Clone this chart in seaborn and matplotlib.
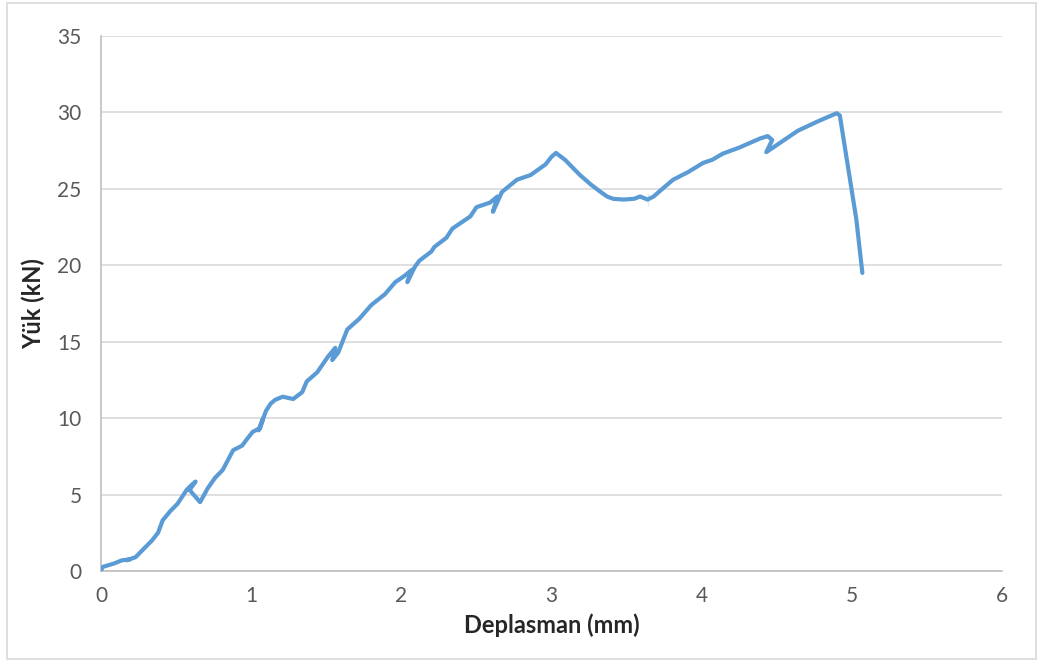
import numpy as np
import pandas as pd
import matplotlib
matplotlib.use('Agg')
import matplotlib.pyplot as plt
import seaborn as sns
from matplotlib.patches import Rectangle

# displacement (mm) and load (kN)
deplasman = [0.00, 0.01, 0.09, 0.14, 0.19, 0.17, 0.23, 0.26, 0.31, 0.34, 0.38, 0.41,
             0.46, 0.51, 0.57, 0.60, 0.63, 0.59, 0.66, 0.71, 0.76, 0.81, 0.88, 0.94,
             0.97, 1.01, 1.06, 1.08, 1.05, 1.10, 1.13, 1.16, 1.21, 1.28, 1.34, 1.37, 1.44,
             1.51, 1.56, 1.54, 1.58, 1.64, 1.72, 1.80, 1.89, 1.96, 2.02, 2.07, 2.04,
             2.09, 2.12, 2.20, 2.22, 2.30, 2.34, 2.46, 2.50, 2.59, 2.64, 2.61, 2.67,
             2.77, 2.86, 2.96, 3.00, 3.03, 3.09, 3.19, 3.26, 3.32, 3.37, 3.41, 3.48,
             3.55, 3.59, 3.64, 3.64, 3.68, 3.75, 3.81, 3.91, 4.01, 4.07, 4.14, 4.25,
             4.39, 4.44, 4.47, 4.43, 4.52, 4.64, 4.77, 4.84, 4.90, 4.92, 5.03, 5.07]
yuk = [0.0, 0.26, 0.5, 0.7, 0.75, 0.7, 0.9, 1.2, 1.7, 2.0, 2.5, 3.3,
       3.9, 4.4, 5.3, 5.6, 5.85, 5.3, 4.5, 5.4, 6.1, 6.6, 7.9, 8.2,
       8.6, 9.1, 9.35, 10.0, 9.2, 10.5, 10.95, 11.2, 11.4, 11.25, 11.7, 12.4, 13.0,
       14.0, 14.6, 13.8, 14.3, 15.8, 16.5, 17.4, 18.1, 18.9, 19.3, 19.7, 18.9,
       19.9, 20.3, 20.9, 21.2, 21.8, 22.4, 23.2, 23.8, 24.1, 24.5, 23.5, 24.8,
       25.6, 25.9, 26.6, 27.1, 27.35, 26.9, 25.9, 25.3, 24.85, 24.5, 24.35, 24.3,
       24.35, 24.5, 24.7, 23.9, 24.5, 25.1, 25.6, 26.1, 26.7, 26.9, 27.3, 27.7,
       28.3, 28.45, 28.2, 27.4, 28.0, 28.8, 29.4, 29.7, 29.95, 29.8, 23.0, 19.5]

df = pd.DataFrame({'Deplasman': deplasman, 'Yuk': yuk})

sns.set_style('white')
plt.rcParams['font.family'] = ['Lato', 'DejaVu Sans']

fig = plt.figure(figsize=(10.39, 6.61), dpi=100)
ax = fig.add_axes([0.0972, 0.1362, 0.8672, 0.8093])

sns.lineplot(data=df, x='Deplasman', y='Yuk', sort=False, color='#5B9BD5',
             linewidth=3.0, ax=ax, zorder=3,
             solid_joinstyle='round', solid_capstyle='round')

ax.set_xlim(0, 6)
ax.set_ylim(0, 35)
ax.set_xticks(range(0, 7))
ax.set_yticks(range(0, 36, 5))
ax.yaxis.grid(True, color='#D9D9D9', linewidth=1.2)
ax.xaxis.grid(False)
for s in ['top', 'right']:
    ax.spines[s].set_visible(False)
for s in ['left', 'bottom']:
    ax.spines[s].set_color('#BFBFBF')
    ax.spines[s].set_linewidth(1.2)
ax.tick_params(axis='both', length=0, labelsize=15, labelcolor='#595959')
ax.tick_params(axis='x', pad=11)
ax.tick_params(axis='y', pad=14)

ax.set_xlabel('Deplasman (mm)', fontsize=17, fontweight='bold', labelpad=5)
ax.set_ylabel('Yük (kN)', fontsize=17, fontweight='bold', labelpad=9)

fig.patches.append(Rectangle((0.007, 0.003), 0.99, 0.992, transform=fig.transFigure,
                             fill=False, edgecolor='#D9D9D9', linewidth=1.2))

fig.savefig('out.png', dpi=100)
